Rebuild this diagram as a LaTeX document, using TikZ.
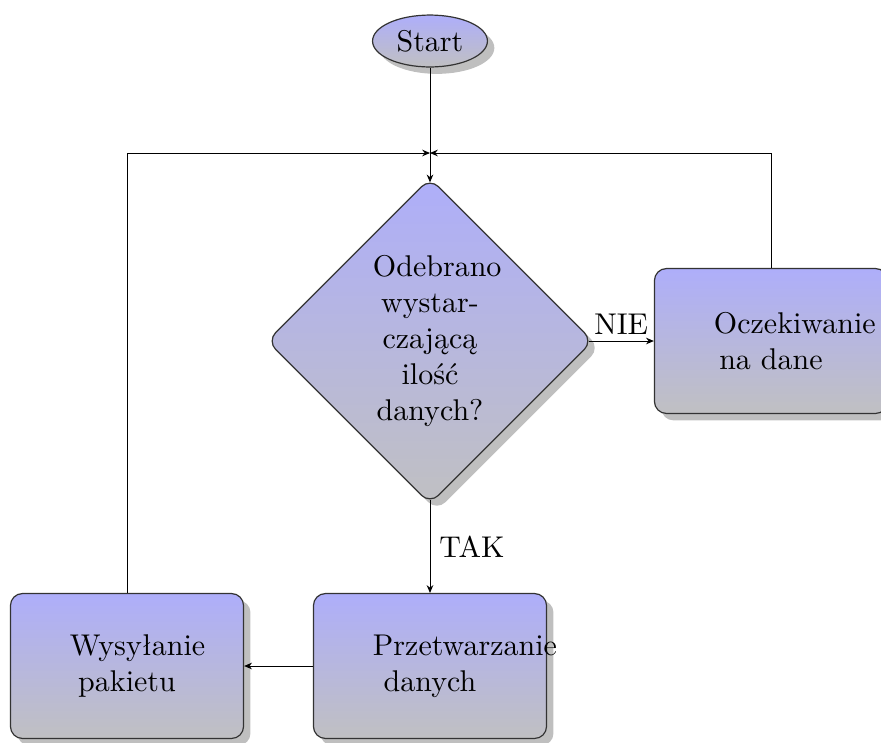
\documentclass[tikz,border=0pt]{standalone}
\usetikzlibrary{shapes.geometric,shadows,arrows.meta,calc}
\definecolor{topc}{RGB}{174,174,250}
\definecolor{botc}{RGB}{192,192,194}
\tikzset{
  shaded/.style={draw=black!80, line width=0.4pt, top color=topc, bottom color=botc,
    drop shadow={shadow xshift=2.3pt, shadow yshift=-2.3pt, opacity=.5, fill=black!50}},
  box/.style={shaded, rectangle, rounded corners=4pt, text width=38pt, align=center,
    minimum width=77.7pt, minimum height=48.3pt},
  decision/.style={shaded, diamond, aspect=1, rounded corners=4pt, text width=38pt,
    align=center, minimum width=108.7pt, minimum height=108.7pt, inner sep=2pt},
  startnode/.style={shaded, ellipse, minimum width=38.3pt, minimum height=17.3pt, inner sep=0pt},
  arr/.style={draw=black, line width=0.3pt, -{Stealth[length=2.6pt,width=2.2pt]}},
  lbl/.style={font=\fontsize{10}{12}\selectfont}
}
\begin{document}
\begin{tikzpicture}[x=0.333333pt,y=-0.333333pt]
\useasboundingbox (0,0) rectangle (881,742);
\node[startnode] (start) at (430,41) {Start};
\node[decision] (dec) at (430,341) {Odebrano\\wystar-\\czającą\\ilość\\danych?};
\node[box] (wait) at (771,341) {Oczekiwanie\\na dane};
\node[box] (proc) at (430,666) {Przetwarzanie\\danych};
\node[box] (send) at (127,666) {Wysyłanie\\pakietu};
\coordinate (m) at (430,153);
\draw[arr] (start.south) -- ($(dec.north)+(0,5)$);
\draw[arr] ($(dec.east)+(-5,0)$) -- node[above, lbl, inner sep=2pt] {NIE} (wait.west);
\draw[arr] ($(dec.south)+(0,-5)$) -- node[right, lbl, inner sep=3pt] {TAK} (proc.north);
\draw[arr] (proc.west) -- (send.east);
\draw[arr] (send.north) |- (m);
\draw[arr] (wait.north) |- (m);
\end{tikzpicture}
\end{document}
